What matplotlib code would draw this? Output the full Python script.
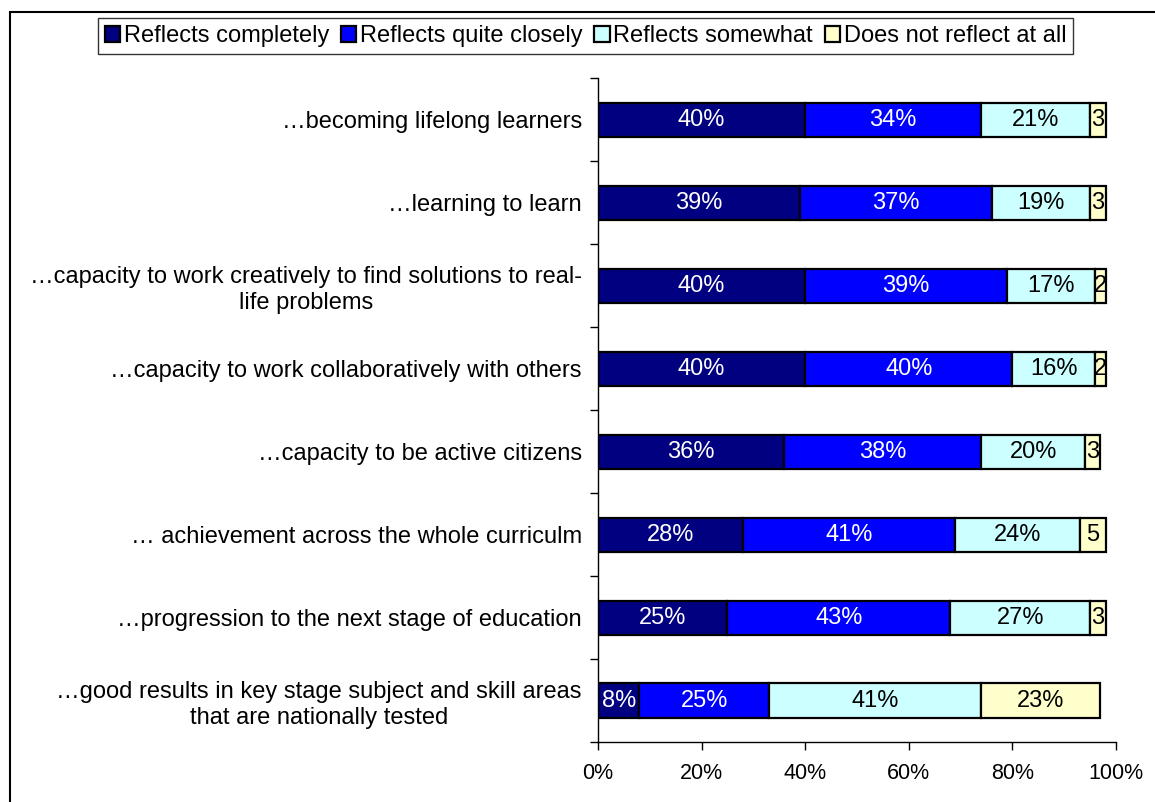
import numpy as np
import matplotlib.pyplot as plt
from matplotlib.patches import Rectangle

plt.rcParams['font.family'] = ['Liberation Sans', 'DejaVu Sans']

categories = [
    "…becoming lifelong learners",
    "…learning to learn",
    "…capacity to work creatively to find solutions to real-\nlife problems",
    "…capacity to work collaboratively with others",
    "…capacity to be active citizens",
    "… achievement across the whole curriculm",
    "…progression to the next stage of education",
    "…good results in key stage subject and skill areas\nthat are nationally tested",
]
series_names = ["Reflects completely", "Reflects quite closely",
                "Reflects somewhat", "Does not reflect at all"]
completely = [40, 39, 40, 40, 36, 28, 25, 8]
quite_closely = [34, 37, 39, 40, 38, 41, 43, 25]
somewhat = [21, 19, 17, 16, 20, 24, 27, 41]
not_at_all = [3, 3, 2, 2, 3, 5, 3, 23]

colors = ["#000080", "#0000FF", "#CCFFFF", "#FFFFCC"]
text_colors = ["white", "white", "black", "black"]
FS = 17

fig = plt.figure(figsize=(11.55, 8.02), dpi=100)
ax = fig.add_axes([0.5177, 0.0748, 0.4485, 0.8279])

y = np.arange(len(categories))
left = np.zeros(len(categories))
for name, vals, c, tc in zip(series_names,
                             [completely, quite_closely, somewhat, not_at_all],
                             colors, text_colors):
    vals = np.array(vals, dtype=float)
    bars = ax.barh(y, vals, left=left, height=0.41, color=c,
                   edgecolor="black", linewidth=1.6, label=name)
    for b, v, l in zip(bars, vals, left):
        # narrow segments only have room for the number
        txt = f"{v:.0f}%" if v >= 6 else f"{v:.0f}"
        t = ax.text(l + v / 2, b.get_y() + b.get_height() / 2, txt,
                    ha="center", va="center", color=tc, fontsize=FS)
        t.set_clip_path(b)
    left += vals

ax.set_xlim(0, 100)
ax.set_ylim(len(categories) - 0.5, -0.5)
ax.set_xticks(np.arange(0, 101, 20))
ax.set_xticklabels([f"{v}%" for v in range(0, 101, 20)], fontsize=15.5)
ax.tick_params(axis="x", direction="out", length=6, width=1, pad=9)

# category ticks sit between the bars, labels go on minor ticks
ax.set_yticks(np.arange(-0.5, len(categories), 1))
ax.set_yticklabels([])
ax.tick_params(axis="y", which="major", direction="out", length=6, width=1)
ax.set_yticks(y, minor=True)
ax.set_yticklabels(categories, minor=True, fontsize=FS,
                   multialignment="center", linespacing=1.25)
ax.tick_params(axis="y", which="minor", length=0, pad=11.5)

for s in ["top", "right"]:
    ax.spines[s].set_visible(False)
for s in ["left", "bottom"]:
    ax.spines[s].set_linewidth(1)

leg = fig.legend(loc="center", bbox_to_anchor=(0.507, 0.955), ncol=4,
                 fontsize=FS, frameon=True, fancybox=False, handlelength=0.65,
                 handleheight=0.65, handletextpad=0.15, columnspacing=0.5,
                 borderpad=0.3, borderaxespad=0)
leg.get_frame().set_edgecolor("black")
leg.get_frame().set_linewidth(1)

# outer chart frame
fig.patches.append(Rectangle((10 / 1155, -0.05), 1.1, 1 - 12 / 802 + 0.05,
                             transform=fig.transFigure, fill=False,
                             edgecolor="black", linewidth=1.5, zorder=-1))

fig.savefig("out.png", dpi=100)
